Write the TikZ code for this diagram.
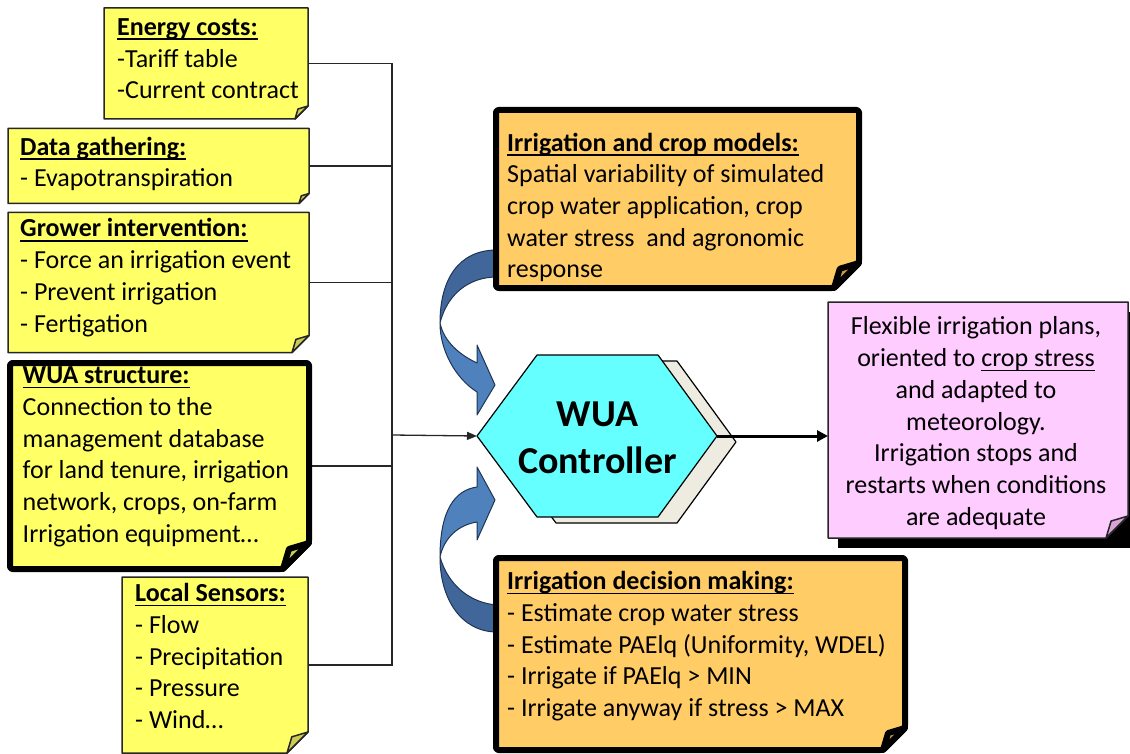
\documentclass[tikz,border=0pt]{standalone}
\usepackage{fontspec}
\setmainfont{Carlito}
\usetikzlibrary{arrows.meta}

% text with a rule under it at a fixed distance below the baseline
\newcommand\ulined[1]{\leavevmode\setbox0\hbox{#1}\rlap{\rule[-4.7pt]{\wd0}{1.7pt}}\box0}

\definecolor{noteyellow}{HTML}{FFFF66}
\definecolor{foldyellow}{HTML}{CCCC55}
\definecolor{noteorange}{HTML}{FFCC66}
\definecolor{foldorange}{HTML}{CC9944}
\definecolor{notepink}{HTML}{FFCCFF}
\definecolor{foldpink}{HTML}{D9A3D9}
\definecolor{hexcyan}{HTML}{66FFFF}
\definecolor{hexback}{HTML}{EEECE1}
\definecolor{arrowback}{HTML}{41669A}
\definecolor{arrowfront}{HTML}{4F81BD}
\definecolor{arrowline}{HTML}{1F3555}

\tikzset{
  area/.style={inner sep=0pt, outer sep=0pt, anchor=north west},
  body/.style={inner sep=0pt, align=left, anchor=west, font=\fontsize{26}{31.7}\selectfont},
  bodyc/.style={inner sep=0pt, align=center, font=\fontsize{26}{31.7}\selectfont},
  thin note/.style={draw=black!85, line width=1.5pt, line join=round},
  thick note/.style={draw=black, line width=6pt, rounded corners=2.5pt, line join=round},
  wire/.style={draw=black!85, line width=1.3pt},
  curl back/.style={fill=arrowback, draw=arrowline, line width=1pt, line join=round},
  curl front/.style={fill=arrowfront, draw=arrowline, line width=1pt, line join=round},
  hexface/.style={draw=black, line width=1.2pt, line join=round},
}

% paper of a sticky note with its bottom-right corner cut off
\newcommand\notefill[3]{%
  \fill[#3] (#1.north west) -- (#1.north east) -- ([yshift=#2]#1.south east)
    -- ([xshift=-#2]#1.south east) -- (#1.south west) -- cycle;}
% outline of the note and the curled-up corner
\newcommand\noteedge[4]{%
  \draw[#3] (#1.north west) -- (#1.north east) -- ([yshift=#2]#1.south east)
    -- ([xshift=-#2]#1.south east) -- (#1.south west) -- cycle;
  \filldraw[#3, fill=#4, rounded corners=0pt] ([yshift=#2]#1.south east)
    -- ([xshift=-0.77*#2, yshift=0.77*#2]#1.south east)
    -- ([xshift=-#2]#1.south east) -- cycle;}

\begin{document}
\begin{tikzpicture}[x=1pt,y=-1pt]
\useasboundingbox (0,0) rectangle (1130,754);
\fill[white] (0,0) rectangle (1130,754);

% note areas
\node[area, minimum width=204pt, minimum height=111pt] (energy)   at (104,8) {};
\node[area, minimum width=301pt, minimum height=75pt]  (data)     at (8,128.5) {};
\node[area, minimum width=301pt, minimum height=140pt] (grower)   at (8,212.5) {};
\node[area, minimum width=299pt, minimum height=206pt] (wua)      at (10,363) {};
\node[area, minimum width=186pt, minimum height=176pt] (sensors)  at (122,577) {};
\node[area, minimum width=363pt, minimum height=178pt] (models)   at (496,110) {};
\node[area, minimum width=409pt, minimum height=192pt] (decision) at (496,558) {};
\node[area, minimum width=300pt, minimum height=236pt] (plans)    at (828,302) {};

% input bus
\coordinate (bus) at (392,435);
\coordinate (ctrl-w) at (477,436);
\coordinate (ctrl-e) at (717,436);
\draw[wire] (energy.east) -- (energy.east -| bus) -- (sensors.east -| bus) -- (sensors.east);
\draw[wire] (data.east) -- (data.east -| bus);
\draw[wire] (grower.east) -- (grower.east -| bus);
\draw[wire] (wua.east) -- (wua.east -| bus);

% curved feedback arrows
\filldraw[curl back] (497,250) .. controls (458,250) and (440,280) .. (440,323)
  .. controls (447,295) and (468,277) .. (497,277) -- cycle;
\filldraw[curl front] (440,323) .. controls (440,350) and (455,378) .. (477,392)
  -- (477,415) -- (495,385) -- (477,345) -- (477,363)
  .. controls (460,355) and (444,342) .. (440,323) -- cycle;
\filldraw[curl front] (477,487) .. controls (455,490) and (440,510) .. (440,557)
  .. controls (444,538) and (458,525) .. (477,522) -- (477,540) -- (495,500) -- (477,467) -- cycle;
\filldraw[curl back] (440,557) .. controls (440,600) and (462,632) .. (497,632)
  -- (497,605) .. controls (470,603) and (448,585) .. (440,557) -- cycle;

% controller hexagon with its back plate
\filldraw[hexface, fill=hexback] (496,442) -- (556,361) -- (677,361) -- (736,442) -- (677,523) -- (556,523) -- cycle;
\filldraw[hexface, fill=hexcyan] (ctrl-w) -- (537,355) -- (658,355) -- (ctrl-e) -- (658,517) -- (537,517) -- cycle;
\node[inner sep=0pt, align=center, font=\fontsize{38}{47.3}\selectfont\bfseries] (ctrl) at (597.5,440.2) {\strut WUA\\Controller\strut};

% output note shadow
\fill[black] (838,312) rectangle (1140,548);

% note paper
\notefill{energy}{13pt}{noteyellow}
\notefill{data}{10pt}{noteyellow}
\notefill{grower}{17pt}{noteyellow}
\notefill{wua}{26pt}{noteyellow, rounded corners=2.5pt}
\notefill{sensors}{21pt}{noteyellow}
\notefill{models}{25pt}{noteorange, rounded corners=2.5pt}
\notefill{decision}{22pt}{noteorange, rounded corners=2.5pt}
\notefill{plans}{22pt}{notepink}

% note texts
\node[body] (energy-t) at (117,60.7) {\strut\ulined{\textbf{Energy costs:}}\\-Tariff table\\-Current contract\strut};
\node[body] (data-t) at (20,164.7) {\strut\ulined{\textbf{Data gathering:}}\\- Evapotranspiration\strut};
\node[body] (grower-t) at (20,278.2) {\strut\ulined{\textbf{Grower intervention:}}\\- Force an irrigation event\\- Prevent irrigation\\- Fertigation\strut};
\node[body] (wua-t) at (22.5,456.7) {\strut\ulined{\textbf{WUA structure:}}\\Connection to the\\management database\\for land tenure, irrigation\\network, crops, on-farm\\Irrigation equipment…\strut};
\node[body] (sensors-t) at (135,658.7) {\strut\ulined{\textbf{Local Sensors:}}\\- Flow\\- Precipitation\\- Pressure\\- Wind…\strut};
\node[body] (models-t) at (507,208.2) {\strut\ulined{\textbf{Irrigation and crop models:}}\\Spatial variability of simulated\\crop water application, crop\\water stress~ and agronomic\\response\strut};
\node[body] (decision-t) at (507,646.8) {\strut\ulined{\textbf{Irrigation decision making:}}\\- Estimate crop water stress\\- Estimate PAElq (Uniformity, WDEL)\\- Irrigate if PAElq > MIN\\- Irrigate anyway if stress > MAX\strut};
\node[bodyc] (plans-t) at (976,423.7) {\strut Flexible irrigation plans,\\oriented to \ulined{crop stress}\\and adapted to\\meteorology.\\Irrigation stops and\\restarts when conditions\\are adequate\strut};

% note outlines and curled corners
\noteedge{energy}{13pt}{thin note}{foldyellow}
\noteedge{data}{10pt}{thin note}{foldyellow}
\noteedge{grower}{17pt}{thin note}{foldyellow}
\noteedge{wua}{26pt}{thick note}{foldyellow}
\noteedge{sensors}{21pt}{thin note}{foldyellow}
\noteedge{models}{25pt}{thick note}{foldorange}
\noteedge{decision}{22pt}{thick note}{foldorange}
\noteedge{plans}{22pt}{thin note}{foldpink}

% flows into and out of the controller
\draw[wire, -{Triangle[length=10pt, width=8pt]}] (bus) -- (ctrl-w);
\draw[line width=3pt, -{Triangle[length=11pt, width=11pt]}] (ctrl-e) -- (ctrl-e -| plans.west);
\end{tikzpicture}
\end{document}
